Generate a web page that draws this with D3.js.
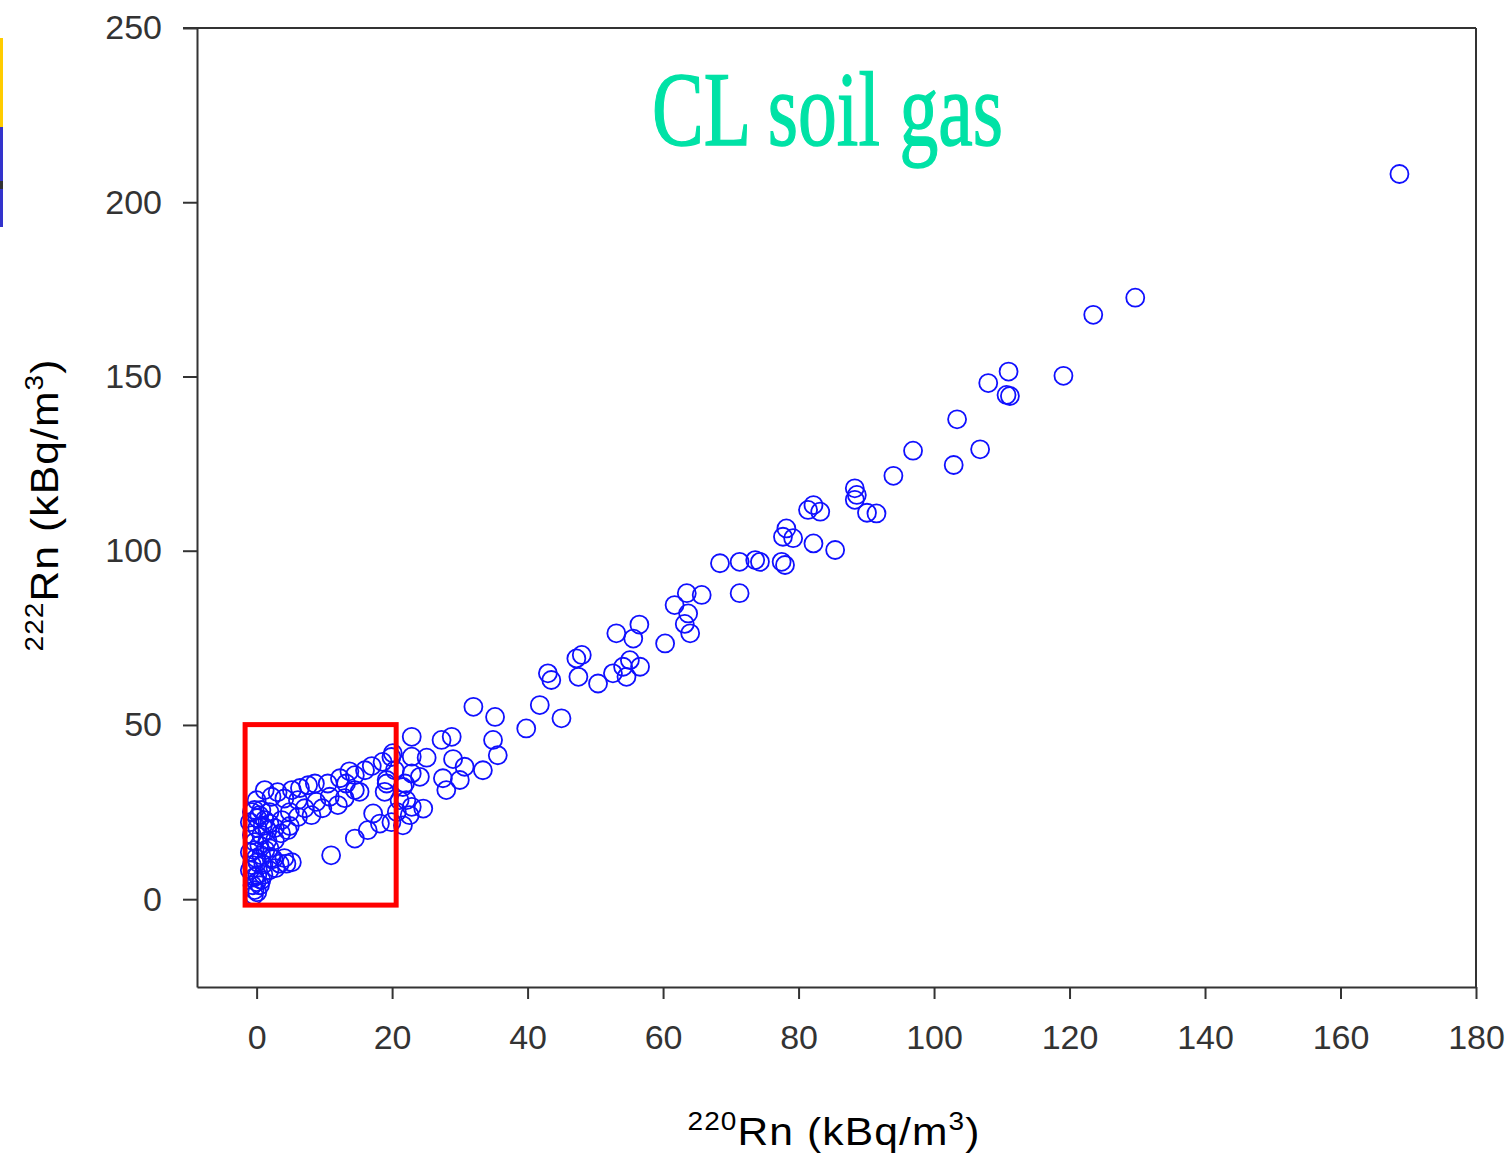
<!DOCTYPE html>
<html>
<head>
<meta charset="utf-8">
<script src="https://cdn.jsdelivr.net/npm/d3@7"></script>
<style>
  html, body { margin: 0; padding: 0; background: #fff; }
  svg { display: block; }
</style>
</head>
<body>
<svg id="chart" width="1510" height="1158"></svg>
<script>
// 220Rn vs 222Rn activity in CL soil gas (kBq/m3)
const rn220 = [
  168.7, 129.7, 123.5, 119.1, 111.0, 108.0, 110.7, 111.2, 103.4, 96.9,
  106.8, 102.9, 94.0, 88.3, 88.3, 88.6, 90.1, 91.5, 82.2, 83.2,
  81.4, 78.2, 77.7, 79.2, 82.2, 85.4, 68.4, 71.3, 73.6, 74.3,
  77.5, 78.0, 71.3, 63.5, 65.7, 61.7, 63.7, 64.0, 63.2, 60.3,
  56.5, 53.1, 55.6, 47.2, 48.0, 43.0, 43.5, 47.5, 50.4, 52.6,
  54.1, 56.6, 55.1, 54.6, 32.0, 35.2, 41.8, 45.0, 39.8, 22.9,
  28.8, 27.3, 34.9, 35.6, 22.9, 25.1, 29.0, 30.7, 33.4, 24.1,
  27.5, 30.0, 28.0, 21.9, 22.9, 24.6, 18.6, 19.2, 21.6, 22.1,
  21.6, 22.9, 16.0, 14.5, 13.2, 15.2, 10.5, 8.6, 7.6, 10.8,
  8.8, 6.1, 4.1, 2.2, 0.0, 6.1, 1.9, 3.6, 9.7, 17.2,
  18.9, 19.2, 18.2, 16.4, 14.5, 11.0, 3.4, 4.4, -0.3, -0.3,
  -0.3, 0.4, 1.2, 0.1, 0.7, -0.3, 1.6, -0.3, 0.7, 0.1,
  1.9, 2.7, 1.9, 0.0, -0.7, 4.6, 20.1, 0.5, 2.5, 1.0,
  -0.7, 0.7, 1.9, -1.0, 0.1, 1.6, 2.7, -0.7, 0.4, -1.0,
  1.3, -0.1, 1.0, -1.0, 0.1, 0.7, -0.6, 0.1, -0.4, 2.2,
  4.1, 5.2, 2.8, 0.9, 3.7, 4.9, 1.2, 3.1, 5.2, 6.4,
  12.3, 13.7, 17.0, 19.9, 7.1, 4.9, 8.1, 13.0, 12.0, 14.5,
  20.4, 21.1, 20.7, 22.6, 19.9
];
const rn222 = [
  208.1, 172.6, 167.7, 150.2, 151.4, 148.1, 144.7, 144.4, 137.7, 128.7,
  129.1, 124.6, 121.5, 117.9, 114.6, 116.0, 110.9, 110.7, 113.1, 111.2,
  111.7, 106.4, 104.0, 103.6, 102.1, 100.2, 96.4, 96.8, 97.3, 96.8,
  96.8, 95.9, 87.8, 87.8, 87.3, 84.4, 82.0, 76.3, 79.0, 73.4,
  78.8, 76.3, 74.8, 69.1, 70.1, 64.8, 62.9, 63.8, 61.9, 64.8,
  66.7, 66.7, 68.6, 63.8, 55.2, 52.3, 55.7, 51.9, 49.0, 46.6,
  46.6, 45.7, 45.7, 41.3, 40.9, 40.6, 40.2, 38.0, 37.0, 35.1,
  34.7, 34.2, 31.3, 33.2, 36.1, 26.0, 39.4, 33.2, 32.2, 28.4,
  21.2, 26.5, 37.0, 35.6, 33.2, 30.8, 33.2, 33.2, 32.7, 29.4,
  27.9, 28.4, 28.9, 29.4, 28.4, 23.6, 21.7, 18.9, 26.1, 24.6,
  30.8, 34.2, 21.7, 19.8, 17.4, 12.6, 10.2, 10.2, 6.4, 2.6,
  25.6, 24.1, 22.7, 20.4, 18.4, 16.4, 16.9, 14.1, 12.6, 10.6,
  14.6, 20.4, 8.3, 4.9, 9.8, 19.8, 41.9, 4.0, 11.5, 7.0,
  25.0, 25.6, 25.0, 22.1, 23.3, 19.8, 16.9, 18.4, 15.5, 13.5,
  14.1, 11.8, 10.0, 8.3, 6.9, 5.5, 4.0, 2.0, 1.1, 11.8,
  11.8, 10.6, 8.9, 21.0, 22.7, 21.0, 31.3, 30.7, 31.3, 31.9,
  34.7, 36.7, 38.2, 40.8, 26.1, 25.0, 24.1, 29.0, 27.0, 31.3,
  37.0, 28.4, 25.0, 24.1, 22.1
];
// Highlighted low-activity region [x0, y0, x1, y1] in data units
const zoomBox = [-1.7, -1.7, 20.6, 50.1];
const xTicks = [0, 20, 40, 60, 80, 100, 120, 140, 160, 180];
const yTicks = [0, 50, 100, 150, 200, 250];
const titleText = "CL soil gas";

const points = rn220.map((v, i) => ({ x: v, y: rn222[i] }));

const svg = d3.select("#chart");
const plotLeft = 197, plotRight = 1476, plotTop = 28, plotBottom = 987;

const x = d3.scaleLinear().domain([-8.8, 180]).range([plotLeft, plotRight]);
const y = d3.scaleLinear().domain([-25.2, 250]).range([plotBottom, plotTop]);

// slide edge decoration
svg.append("rect").attr("x", 0).attr("y", 38).attr("width", 3).attr("height", 89).attr("fill", "#ffcc00");
svg.append("rect").attr("x", 0).attr("y", 127).attr("width", 3).attr("height", 100).attr("fill", "#3333cc");
svg.append("rect").attr("x", 0).attr("y", 181).attr("width", 3).attr("height", 8).attr("fill", "#333");

// frame
const frame = svg.append("g").attr("stroke", "#333").attr("stroke-width", 2).attr("fill", "none");
frame.append("line").attr("x1", plotLeft - 14).attr("x2", plotRight).attr("y1", plotTop).attr("y2", plotTop);
frame.append("line").attr("x1", plotRight).attr("x2", plotRight).attr("y1", plotTop).attr("y2", plotBottom);

const fontTick = "'Liberation Sans', Arial, sans-serif";

const yAxis = svg.append("g")
  .attr("transform", `translate(${plotLeft},0)`)
  .call(d3.axisLeft(y).tickValues(yTicks).tickSize(14).tickSizeOuter(0).tickPadding(21));
const xAxis = svg.append("g")
  .attr("transform", `translate(0,${plotBottom})`)
  .call(d3.axisBottom(x).tickValues(xTicks).tickSize(12).tickSizeOuter(0).tickPadding(26));

[yAxis, xAxis].forEach(g => {
  g.select(".domain").attr("stroke", "#333").attr("stroke-width", 2);
  g.selectAll(".tick line").attr("stroke", "#333").attr("stroke-width", 2);
  g.selectAll(".tick text")
    .attr("font-family", fontTick).attr("font-size", 34).attr("fill", "#333");
});

// title
svg.append("text")
  .attr("x", 652).attr("y", 145)
  .attr("font-family", "'Liberation Serif', 'Times New Roman', serif")
  .attr("font-size", 106)
  .attr("fill", "#00e2a6")
  .attr("stroke", "#00e2a6")
  .attr("stroke-width", 1.4)
  .attr("textLength", 351)
  .attr("lengthAdjust", "spacingAndGlyphs")
  .text(titleText);

// data markers
svg.append("g")
  .selectAll("circle")
  .data(points)
  .join("circle")
  .attr("cx", d => x(d.x))
  .attr("cy", d => y(d.y))
  .attr("r", 9)
  .attr("fill", "none")
  .attr("stroke", "#1010ff")
  .attr("stroke-width", 1.8);

// highlighted region
svg.append("rect")
  .attr("x", x(zoomBox[0]))
  .attr("y", y(zoomBox[3]))
  .attr("width", x(zoomBox[2]) - x(zoomBox[0]))
  .attr("height", y(zoomBox[1]) - y(zoomBox[3]))
  .attr("fill", "none")
  .attr("stroke", "#ff0000")
  .attr("stroke-width", 5);

// axis titles
function axisTitle(g, iso) {
  const t = g.append("text")
    .attr("font-family", fontTick)
    .attr("font-size", 38)
    .attr("fill", "#000")
    .attr("text-anchor", "middle")
    .attr("letter-spacing", 1);
  t.append("tspan").attr("font-size", 25).attr("dy", -15).text(iso);
  t.append("tspan").attr("dy", 15).text("Rn (kBq/m");
  t.append("tspan").attr("font-size", 25).attr("dy", -15).text("3");
  t.append("tspan").attr("dy", 15).text(")");
  return t;
}
const xt = svg.append("g").attr("transform", "translate(834,1145) scale(1.12,1)");
axisTitle(xt, "220");
const yt = svg.append("g").attr("transform", "translate(58,505) rotate(-90) scale(1.12,1)");
axisTitle(yt, "222");
</script>
</body>
</html>
